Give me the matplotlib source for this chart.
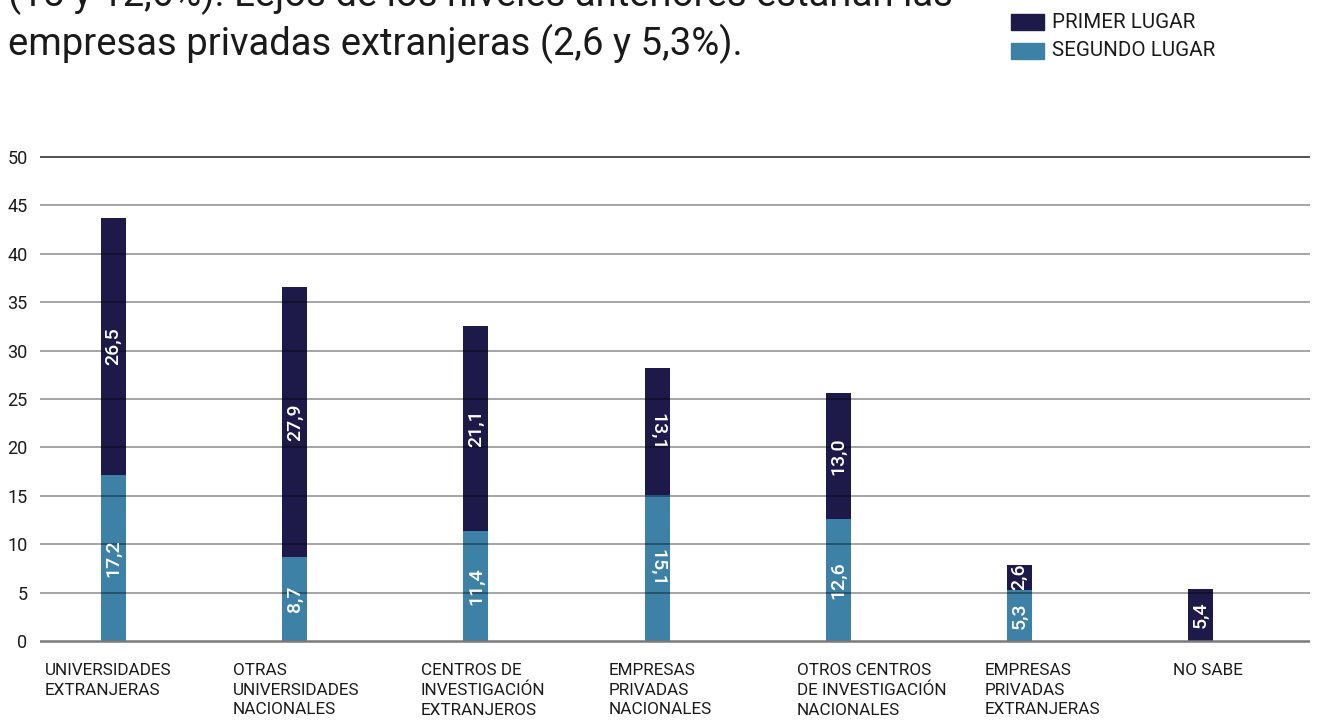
import numpy as np
import matplotlib
matplotlib.use("Agg")
import matplotlib.pyplot as plt
from matplotlib.patches import Rectangle

plt.rcParams["font.family"] = ["Roboto", "DejaVu Sans"]

# Data: share of mentions (%) by type of partner institution
categories = [
    "UNIVERSIDADES\nEXTRANJERAS",
    "OTRAS\nUNIVERSIDADES\nNACIONALES",
    "CENTROS DE\nINVESTIGACIÓN\nEXTRANJEROS",
    "EMPRESAS\nPRIVADAS\nNACIONALES",
    "OTROS CENTROS\nDE INVESTIGACIÓN\nNACIONALES",
    "EMPRESAS\nPRIVADAS\nEXTRANJERAS",
    "NO SABE",
]
segundo = [17.2, 8.7, 11.4, 15.1, 12.6, 5.3, 0.0]
primero = [26.5, 27.9, 21.1, 13.1, 13.0, 2.6, 5.4]
# a couple of value labels read top-to-bottom
label_rot_segundo = [90, 90, 90, 270, 90, 90, 90]
label_rot_primero = [90, 90, 90, 270, 90, 90, 90]
yticks = list(range(0, 51, 5))

intro_lines = [
    "(15 y 12,6%). Lejos de los niveles anteriores estarían las",
    "empresas privadas extranjeras (2,6 y 5,3%).",
]

C_PRIMERO = "#1d1a4a"
C_SEGUNDO = "#3d81a6"
TXT = "#1a1a1a"

W, H = 1317, 720
fig = plt.figure(figsize=(W / 100, H / 100), dpi=100)

# axes: value 0 at y=641px, 50 at y=157px; gridlines from x=40px to 1310px
px_per_unit = (641 - 157) / 50
y0, y1 = -0.5, 50.5
ax_bottom = (H - (641 - y0 * px_per_unit)) / H
ax_top = (H - (641 - y1 * px_per_unit)) / H
ax = fig.add_axes([40 / W, ax_bottom, 1270 / W, ax_top - ax_bottom])

step_px = 181.17
x_left = (40 - 113.5) / step_px
x_right = (1310 - 113.5) / step_px
ax.set_xlim(x_left, x_right)
ax.set_ylim(y0, y1)

x = np.arange(len(categories))
bw = 25 / step_px
ax.bar(x, segundo, width=bw, color=C_SEGUNDO, zorder=2)
ax.bar(x, primero, width=bw, bottom=segundo, color=C_PRIMERO, zorder=2)

# horizontal rules drawn over the bars
for t in yticks:
    if t == 50:
        ax.axhline(t, color="#222222", lw=1.1, zorder=3)
    elif t == 0:
        ax.axhline(t, color="#7a7a7a", lw=1.8, zorder=3)
    else:
        ax.axhline(t, color="black", alpha=0.45, lw=1.1, zorder=3)

# value labels inside the segments
for i in range(len(categories)):
    if segundo[i] > 0:
        ax.text(x[i], segundo[i] / 2, f"{segundo[i]:.1f}".replace(".", ","),
                rotation=label_rot_segundo[i], ha="center", va="center",
                color="white", fontsize=14, fontweight="medium", zorder=4)
    if primero[i] > 0:
        ax.text(x[i], segundo[i] + primero[i] / 2,
                f"{primero[i]:.1f}".replace(".", ","),
                rotation=label_rot_primero[i], ha="center", va="center",
                color="white", fontsize=14, fontweight="medium", zorder=4)

# category names, left aligned under each bar
lab_step = 188 / step_px
lab_x0 = (45 - 113.5) / step_px
for i, name in enumerate(categories):
    ax.text(lab_x0 + i * lab_step, -2.3, name, ha="left", va="top",
            fontsize=12.3, color=TXT, linespacing=1.36,
            transform=ax.transData, clip_on=False)

ax.set_yticks(yticks)
ax.set_yticklabels([str(t) for t in yticks], fontsize=13, color=TXT)
ax.set_xticks([])
ax.tick_params(axis="y", length=0, pad=9)
for s in ax.spines.values():
    s.set_visible(False)

# paragraph text above the chart (first line runs off the top edge)
fig.text(8 / W, 1 - 6 / H, intro_lines[0], ha="left", va="baseline",
         fontsize=27.5, color=TXT)
fig.text(8 / W, 1 - 55 / H, intro_lines[1], ha="left", va="baseline",
         fontsize=27.5, color=TXT)

# legend
for j, (lab, col) in enumerate([("PRIMER LUGAR", C_PRIMERO),
                                 ("SEGUNDO LUGAR", C_SEGUNDO)]):
    top = 14 + j * 29
    fig.patches.append(Rectangle((1011 / W, 1 - (top + 16) / H), 33 / W, 16 / H,
                                 transform=fig.transFigure, color=col))
    fig.text(1052 / W, 1 - (top + 8) / H, lab, ha="left", va="center",
             fontsize=14.8, color=TXT)

fig.savefig("out.png", dpi=100)
